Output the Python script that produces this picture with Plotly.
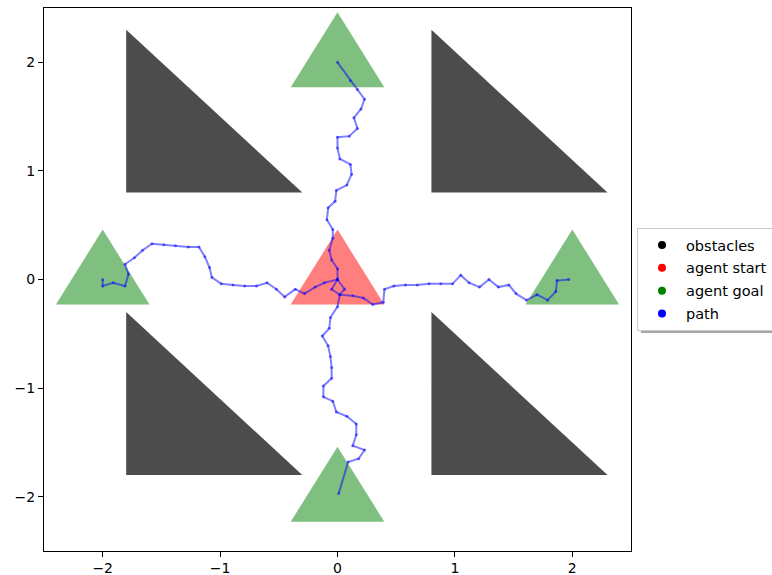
import plotly.graph_objects as go

# Obstacles: right triangles given as (x, y) vertex lists
obstacles = [
    [(-1.8, 2.3), (-1.8, 0.8), (-0.3, 0.8)],
    [(0.8, 2.3), (0.8, 0.8), (2.3, 0.8)],
    [(-1.8, -0.3), (-1.8, -1.8), (-0.3, -1.8)],
    [(0.8, -0.3), (0.8, -1.8), (2.3, -1.8)],
]

agent_start = (0.0, 0.0)
agent_goals = [(0.0, 2.0), (-2.0, 0.0), (2.0, 0.0), (0.0, -2.0)]
marker_radius = 0.46

# Planned paths, one per goal
path_up_x = [0.00, 0.00, -0.05, -0.07, -0.04, -0.04, -0.09, -0.08, -0.02, -0.01, 0.08, 0.12,
             0.11, 0.02, 0.00, 0.00, 0.10, 0.17, 0.14, 0.20, 0.23, 0.17, 0.11, 0.00]
path_up_y = [0.00, 0.10, 0.18, 0.27, 0.38, 0.46, 0.55, 0.66, 0.72, 0.82, 0.87, 0.97,
             1.06, 1.11, 1.21, 1.31, 1.32, 1.39, 1.49, 1.57, 1.66, 1.75, 1.83, 2.00]

path_left_x = [0.00, -0.11, -0.19, -0.28, -0.36, -0.45, -0.52, -0.60, -0.69, -0.79, -0.89, -0.99,
               -1.07, -1.09, -1.13, -1.18, -1.27, -1.38, -1.48, -1.58, -1.66, -1.73, -1.81,
               -1.78, -1.81, -1.91, -2.00, -2.00]
path_left_y = [0.00, -0.03, -0.07, -0.13, -0.09, -0.16, -0.09, -0.03, -0.06, -0.06, -0.05, -0.04,
               0.02, 0.11, 0.21, 0.30, 0.30, 0.31, 0.32, 0.33, 0.27, 0.20, 0.14,
               0.05, -0.06, -0.03, -0.06, 0.00]

path_right_x = [0.00, 0.06, 0.02, 0.13, 0.22, 0.30, 0.39, 0.40, 0.48, 0.58, 0.68, 0.78, 0.88,
                0.98, 1.05, 1.12, 1.21, 1.29, 1.37, 1.46, 1.52, 1.61, 1.70, 1.79, 1.86, 1.87, 1.97]
path_right_y = [0.00, -0.09, -0.14, -0.15, -0.17, -0.23, -0.21, -0.09, -0.06, -0.05, -0.05, -0.04, -0.04,
                -0.04, 0.04, -0.03, -0.07, 0.00, -0.07, -0.05, -0.13, -0.19, -0.14, -0.19, -0.11, -0.01, 0.00]

path_down_x = [0.00, -0.05, 0.02, 0.00, -0.06, -0.07, -0.13, -0.08, -0.06, -0.05, -0.05, -0.12,
               -0.12, -0.04, -0.01, 0.08, 0.16, 0.16, 0.13, 0.23, 0.18, 0.09, 0.01]
path_down_y = [0.00, -0.09, -0.14, -0.25, -0.35, -0.45, -0.52, -0.61, -0.71, -0.81, -0.91, -0.98,
               -1.08, -1.12, -1.22, -1.26, -1.33, -1.43, -1.53, -1.57, -1.65, -1.68, -1.97]

paths = [
    (path_up_x, path_up_y),
    (path_left_x, path_left_y),
    (path_right_x, path_right_y),
    (path_down_x, path_down_y),
]

OBSTACLE_COLOR = "rgba(0,0,0,0.7)"
START_COLOR = "rgba(255,0,0,0.5)"
GOAL_COLOR = "rgba(0,128,0,0.5)"
PATH_COLOR = "rgba(0,0,255,0.5)"


def triangle_marker(cx, cy, r):
    """Upward equilateral triangle centred on (cx, cy) with circumradius r."""
    h = r * 0.8660254
    xs = [cx, cx - h, cx + h, cx]
    ys = [cy + r, cy - r / 2, cy - r / 2, cy + r]
    return xs, ys


fig = go.Figure()

for tri in obstacles:
    xs = [p[0] for p in tri] + [tri[0][0]]
    ys = [p[1] for p in tri] + [tri[0][1]]
    fig.add_trace(go.Scatter(x=xs, y=ys, mode="lines", fill="toself",
                             fillcolor=OBSTACLE_COLOR, line=dict(width=0),
                             hoverinfo="skip", showlegend=False))

xs, ys = triangle_marker(agent_start[0], agent_start[1], marker_radius)
fig.add_trace(go.Scatter(x=xs, y=ys, mode="lines", fill="toself",
                         fillcolor=START_COLOR, line=dict(width=0),
                         hoverinfo="skip", showlegend=False))

for gx, gy in agent_goals:
    xs, ys = triangle_marker(gx, gy, marker_radius)
    fig.add_trace(go.Scatter(x=xs, y=ys, mode="lines", fill="toself",
                             fillcolor=GOAL_COLOR, line=dict(width=0),
                             hoverinfo="skip", showlegend=False))

for px, py in paths:
    fig.add_trace(go.Scatter(x=px, y=py, mode="lines+markers",
                             line=dict(color=PATH_COLOR, width=2),
                             marker=dict(color=PATH_COLOR, size=3),
                             showlegend=False))

# Legend entries
legend_items = [
    ("obstacles", "black"),
    ("agent start", "red"),
    ("agent goal", "green"),
    ("path", "blue"),
]
for i, (name, col) in enumerate(legend_items):
    fig.add_trace(go.Scatter(x=[None], y=[None], mode="markers", name=name,
                             legendgroup=f"g{i}",
                             marker=dict(color=col, size=8)))

# Drop shadow peeking out below the legend box
fig.add_shape(type="rect", xref="paper", yref="paper",
              x0=1.017, x1=1.30, y0=0.4015, y1=0.554,
              fillcolor="#a6a6a6", line=dict(width=0), layer="above")

axis_common = dict(
    range=[-2.5, 2.5], tickvals=[-2, -1, 0, 1, 2],
    showgrid=False, zeroline=False, showline=True, mirror=True,
    linecolor="black", linewidth=1, ticks="outside", ticklen=5,
    tickcolor="black", tickwidth=1,
    tickfont=dict(family="DejaVu Sans", size=14, color="black"),
)

fig.update_layout(
    width=772, height=575,
    margin=dict(l=44, r=141, t=8, b=24, autoexpand=False),
    paper_bgcolor="white", plot_bgcolor="white",
    xaxis=dict(**axis_common, ticklabelstandoff=-1),
    yaxis=dict(**axis_common),
    showlegend=True,
    legend=dict(
        x=(637 - 44) / 587, y=(551 - 228) / 543, xanchor="left", yanchor="top",
        bgcolor="white", bordercolor="#cccccc", borderwidth=1,
        font=dict(family="DejaVu Sans", size=14.5, color="black"),
        tracegroupgap=1, itemwidth=38, entrywidth=110,
    ),
)

fig.write_html("out.html")
